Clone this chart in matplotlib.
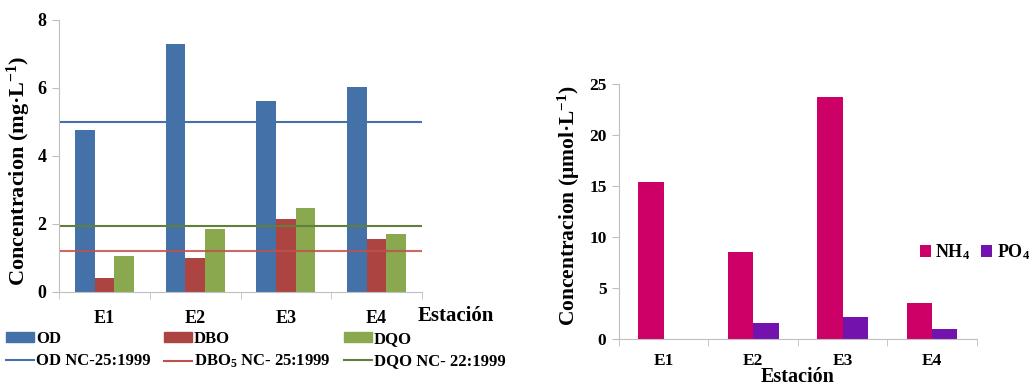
import matplotlib
matplotlib.use("Agg")
import matplotlib.pyplot as plt
import numpy as np
from matplotlib.patches import Patch
from matplotlib.lines import Line2D

plt.rcParams['font.family'] = ['Liberation Serif', 'DejaVu Serif']
plt.rcParams['font.weight'] = 'bold'
plt.rcParams['axes.labelweight'] = 'bold'
plt.rcParams['mathtext.fontset'] = 'custom'
plt.rcParams['mathtext.rm'] = 'Liberation Serif:bold'
plt.rcParams['mathtext.it'] = 'Liberation Serif:bold'
plt.rcParams['mathtext.bf'] = 'Liberation Serif:bold'

# Stations
stations = ["E1", "E2", "E3", "E4"]

# Left panel: dissolved oxygen and oxygen demands (mg/L)
od = [4.76, 7.28, 5.63, 6.02]
dbo = [0.42, 1.01, 2.14, 1.55]
dqo = [1.06, 1.84, 2.46, 1.70]
od_limit = 5.0
dbo_limit = 1.2
dqo_limit = 1.95

# Right panel: nutrients (umol/L)
nh4 = [15.4, 8.52, 23.75, 3.54]
po4 = [0.0, 1.57, 2.13, 0.92]

left_yticks = [0, 2, 4, 6, 8]
right_yticks = [0, 5, 10, 15, 20, 25]

c_blue = "#4472A8"
c_red = "#AC4542"
c_green = "#8AA84E"
c_pink = "#CC0066"
c_purple = "#7412AE"
c_spine = "#BFBFBF"

fig = plt.figure(figsize=(10.34, 3.88), dpi=100)
x = np.arange(len(stations))

# ---- left panel ----
ax1 = fig.add_axes([59/1034, 1-292/388, (422-59)/1034, (292-20)/388])
w = 0.217
ax1.bar(x - w, od, w, color=c_blue)
ax1.bar(x, dbo, w, color=c_red)
ax1.bar(x + w, dqo, w, color=c_green)
ax1.axhline(od_limit, color=c_blue, lw=1.5)
ax1.axhline(dbo_limit, color="#C0504D", lw=1.5, alpha=0.85)
ax1.axhline(dqo_limit, color="#5F7F3A", lw=1.5)
ax1.set_xlim(-0.5, 3.5)
ax1.set_ylim(0, 8)
ax1.set_yticks(left_yticks)
ax1.set_yticklabels([str(v) for v in left_yticks], fontweight='bold', fontsize=13)
ax1.set_xticks(x)
ax1.set_xticklabels(stations, fontweight='bold', fontsize=13)
ax1.set_xticks(np.arange(-0.5, 4.0, 1.0), minor=True)
ax1.tick_params(axis='x', which='major', length=0, pad=13)
ax1.tick_params(axis='x', which='minor', length=5, color=c_spine, direction='out')
ax1.tick_params(axis='y', length=5, color=c_spine, pad=4)
for s in ['top', 'right']:
    ax1.spines[s].set_visible(False)
for s in ['left', 'bottom']:
    ax1.spines[s].set_color(c_spine)
ax1.set_ylabel("Concentracion (mg·L$^{-1}$)", fontsize=16, fontweight='bold')
ax1.yaxis.set_label_coords(-0.072, 0.445)
fig.text(418/1034, 1-316/388, "Estación", fontsize=15, fontweight='bold',
         va='center', ha='left')

leg_font = dict(size=12, weight='bold')
cols = [
    ([Patch(color=c_blue), Line2D([], [], color=c_blue, lw=1.5)], ["OD", "OD NC-25:1999"], 6),
    ([Patch(color=c_red), Line2D([], [], color="#C0504D", lw=1.5)], ["DBO", "DBO$_5$ NC- 25:1999"], 164),
    ([Patch(color=c_green), Line2D([], [], color="#5F7F3A", lw=1.5)], ["DQO", "DQO NC- 22:1999"], 344),
]
for handles, labels, xpix in cols:
    fig.legend(handles, labels, loc='upper left',
               bbox_to_anchor=(xpix/1034, 1-331/388), frameon=False,
               prop=leg_font, handlelength=1.7, handleheight=0.5,
               handletextpad=0.1, labelspacing=0.35, borderpad=0, borderaxespad=0)

# ---- right panel ----
ax2 = fig.add_axes([619/1034, 1-338.7/388, (976.7-619)/1034, (338.7-84.3)/388])
w2 = 0.285
ax2.bar(x - w2/2, nh4, w2, color=c_pink, label="NH$_4$")
ax2.bar(x + w2/2, po4, w2, color=c_purple, label="PO$_4$")
ax2.set_xlim(-0.5, 3.5)
ax2.set_ylim(0, 25)
ax2.set_yticks(right_yticks)
ax2.set_yticklabels([str(v) for v in right_yticks], fontweight='bold', fontsize=12.5)
ax2.set_xticks(x)
ax2.set_xticklabels(stations, fontweight='bold', fontsize=12.5)
ax2.set_xticks(np.arange(-0.5, 4.0, 1.0), minor=True)
ax2.tick_params(axis='x', which='major', length=0, pad=10)
ax2.tick_params(axis='x', which='minor', length=5, color=c_spine, direction='out')
ax2.tick_params(axis='y', length=5, color=c_spine, pad=4)
for s in ['top', 'right']:
    ax2.spines[s].set_visible(False)
for s in ['left', 'bottom']:
    ax2.spines[s].set_color(c_spine)
ax2.set_ylabel("Concentracion (μmol·L$^{-1}$)", fontsize=15.5, fontweight='bold')
ax2.yaxis.set_label_coords(-0.103, 0.525)
ax2.set_xlabel("Estación", fontsize=14.5, fontweight='bold', labelpad=-1)
ax2.legend(loc='center left', bbox_to_anchor=(920/1034, 1-252/388),
           bbox_transform=fig.transFigure, frameon=False, ncol=2,
           prop=dict(size=13, weight='bold'), handlelength=0.6, handleheight=0.6,
           handletextpad=0.25, columnspacing=0.6, borderpad=0, borderaxespad=0)

fig.savefig("out.png", dpi=100, facecolor='white')
